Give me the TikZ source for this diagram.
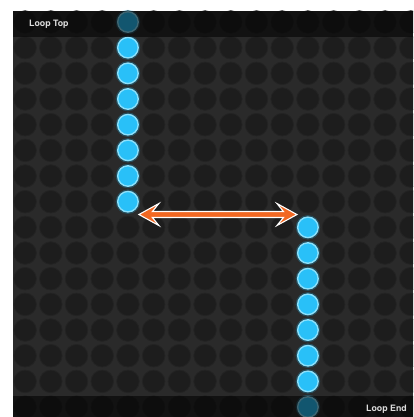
\documentclass[tikz,border=0pt]{standalone}
\usepackage{fontspec}
\setsansfont{TeX Gyre Heros}
\usetikzlibrary{calc}
\definecolor{paper}{RGB}{255,255,255}
\definecolor{panel}{RGB}{42,42,42}
\definecolor{hole}{RGB}{29,29,29}
\definecolor{holerim}{RGB}{35,35,35}
\definecolor{lit}{RGB}{41,192,248}
\definecolor{litrim}{RGB}{140,224,251}
\definecolor{flag}{RGB}{242,104,34}
\definecolor{caption}{RGB}{222,222,222}
\tikzset{
  pad/.style={circle, fill=hole, draw=holerim, line width=0.8pt, minimum size=22.5pt, inner sep=0pt},
  dot/.style={circle, fill=lit, draw=litrim, line width=1.4pt, minimum size=20.5pt, inner sep=0pt},
  glow/.style={circle, fill=lit, opacity=0.25, minimum size=24.5pt, inner sep=0pt},
  shade/.style={fill=black, opacity=0.55},
  tag/.style={font=\sffamily\bfseries\fontsize{8.8}{10}\selectfont, text=caption, inner sep=0pt},
  twoway/.style={fill=flag, draw=paper, line width=1.1pt, line join=miter},
}
\begin{document}
\begin{tikzpicture}[x=1pt, y=-1pt]
  \useasboundingbox (0,0) rectangle (413,417);
  % step grid
  \fill[panel] (13,11) rectangle (413,417);
  \begin{scope}
    \clip (13,11) rectangle (413,417);
    \foreach \c in {0,...,15} {
      \foreach \r in {0,...,15} {
        \node[pad] (p\c-\r) at (25.1+25.71*\c, 22+25.67*\r) {};
      }
    }
  \end{scope}
  % loop steps
  \foreach \r in {0,...,7} {
    \node[glow] at (p4-\r) {};
    \node[dot] (t\r) at (p4-\r) {};
  }
  \foreach \r in {8,...,15} {
    \node[glow] at (p11-\r) {};
    \node[dot] (b\r) at (p11-\r) {};
  }
  % top and bottom bars
  \fill[shade] (13,11) rectangle (413,37);
  \fill[shade] (13,396) rectangle (413,417);
  \node[tag, anchor=west] (looptop) at (29,24) {Loop Top};
  \node[tag, anchor=east] (loopend) at (407,409) {Loop End};
  % shift arrow
  \coordinate (mid) at ($(t7)!.5!(b8)$);
  \coordinate (aL) at (t7.east |- mid);
  \coordinate (aR) at (b8.west |- mid);
  \draw[twoway] (aL) -- ++(20,-11) -- ++(-6.5,8) -- ($(aR)+(-13.5,-3)$) -- ++(-6.5,-8)
    -- (aR) -- ++(-20,11) -- ++(6.5,-8) -- ($(aL)+(13.5,3)$) -- ++(6.5,8) -- cycle;
\end{tikzpicture}
\end{document}
